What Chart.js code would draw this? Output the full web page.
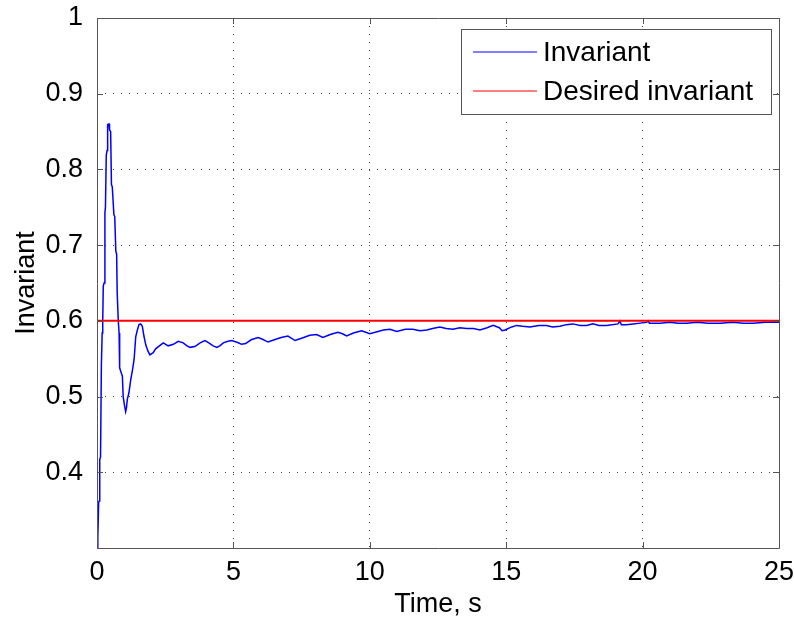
<!DOCTYPE html>
<html><head><meta charset="utf-8">
<script src="https://cdn.jsdelivr.net/npm/chart.js@4"></script>
<style>html,body{margin:0;padding:0;background:#fff;}#wrap{width:794px;height:618px;}</style>
</head><body><div id="wrap"><canvas id="c" width="794" height="618"></canvas></div>
<script>
// ---- data ----
const timeS = [
  0.00,0.03,0.06,0.08,0.10,0.13,0.16,0.19,0.21,0.23,0.26,0.29,0.31,0.34,0.37,0.39,0.44,0.46,0.50,
  0.53,0.56,0.62,0.65,0.69,0.72,0.74,0.78,0.81,0.83,0.90,0.93,0.96,1.00,1.05,1.08,1.11,1.17,1.24,
  1.30,1.36,1.42,1.48,1.54,1.60,1.66,1.72,1.79,1.87,1.94,2.06,2.15,2.25,2.43,2.61,2.80,2.98,3.16,
  3.30,3.41,3.59,3.78,3.96,4.10,4.26,4.39,4.50,4.63,4.80,4.94,5.18,5.30,5.45,5.65,5.90,6.05,6.27,
  6.50,6.75,7.00,7.26,7.50,7.80,8.05,8.28,8.55,8.83,9.00,9.15,9.40,9.70,10.00,10.20,10.50,10.74,
  10.99,11.30,11.58,11.84,12.09,12.30,12.57,12.80,13.05,13.30,13.55,13.80,14.04,14.30,14.52,14.75,
  14.85,14.96,15.20,15.39,15.60,15.87,16.20,16.48,16.70,16.97,17.20,17.45,17.70,17.95,18.18,18.40,
  18.68,19.10,19.17,19.22,19.40,19.65,19.90,20.15,20.20,20.25,20.40,20.64,21.00,21.30,21.62,22.00,
  22.40,22.84,23.30,23.70,24.05,24.50,25.00
];
const invariant = [
  0.300,0.314,0.360,0.362,0.417,0.420,0.541,0.584,0.600,0.646,0.650,0.743,0.750,0.819,0.825,0.859,0.860,0.852,0.850,
  0.780,0.777,0.740,0.738,0.692,0.688,0.637,0.600,0.584,0.538,0.530,0.527,0.500,0.490,0.480,0.485,0.496,0.505,0.523,
  0.535,0.549,0.579,0.588,0.595,0.596,0.593,0.580,0.568,0.560,0.555,0.558,0.563,0.566,0.571,0.567,0.569,0.573,0.571,
  0.567,0.565,0.566,0.571,0.574,0.571,0.567,0.565,0.567,0.571,0.573,0.574,0.571,0.569,0.570,0.575,0.578,0.576,0.572,
  0.575,0.578,0.580,0.574,0.577,0.581,0.582,0.578,0.582,0.585,0.583,0.580,0.584,0.587,0.583,0.585,0.588,0.589,
  0.586,0.589,0.589,0.587,0.588,0.590,0.592,0.590,0.589,0.591,0.590,0.590,0.588,0.591,0.594,0.591,
  0.587,0.588,0.592,0.594,0.593,0.592,0.594,0.594,0.592,0.593,0.595,0.596,0.594,0.594,0.596,0.594,
  0.594,0.596,0.600,0.595,0.595,0.596,0.597,0.598,0.600,0.597,0.597,0.597,0.598,0.597,0.597,0.598,
  0.597,0.597,0.598,0.597,0.597,0.598,0.598
];
const desiredTime = [0, 25];
const desiredInvariant = [0.6, 0.6];
const seriesLabels = ['Invariant', 'Desired invariant'];
const seriesColors = ['#0000ff', '#ff0000'];
const xTickValues = [0, 5, 10, 15, 20, 25];
const yTickValues = [0.3, 0.4, 0.5, 0.6, 0.7, 0.8, 0.9, 1.0];
const xTitle = 'Time, s';
const yTitle = 'Invariant';

const FONT = "'Liberation Sans', Arial, Helvetica, sans-serif";
const AXIS_COLOR = '#555555';
const GRID_COLOR = '#444444';

const boxPlugin = {
  id: 'matlabBox',
  afterDatasetsDraw(chart) {
    const {ctx, chartArea: a, scales} = chart;
    ctx.save();
    ctx.strokeStyle = AXIS_COLOR;
    ctx.lineWidth = 1;
    ctx.beginPath();
    ctx.rect(Math.round(a.left) + 0.5, Math.round(a.top) + 0.5, Math.round(a.right - a.left), Math.round(a.bottom - a.top));
    ctx.stroke();
    const L = 6;
    ctx.beginPath();
    scales.x.ticks.forEach(t => {
      const x = Math.round(scales.x.getPixelForValue(t.value)) + 0.5;
      ctx.moveTo(x, a.bottom); ctx.lineTo(x, a.bottom - L);
      ctx.moveTo(x, a.top); ctx.lineTo(x, a.top + L);
    });
    scales.y.ticks.forEach(t => {
      const y = Math.round(scales.y.getPixelForValue(t.value)) + 0.5;
      ctx.moveTo(a.left, y); ctx.lineTo(a.left + L, y);
      ctx.moveTo(a.right, y); ctx.lineTo(a.right - L, y);
    });
    ctx.stroke();
    ctx.restore();
  },
  afterDraw(chart) {
    const {ctx, chartArea: a} = chart;
    const ds = chart.data.datasets;
    const bx = a.right - 8, by = a.top + 11, bw = 310, bh = 85;
    ctx.save();
    ctx.fillStyle = '#ffffff';
    ctx.fillRect(bx - bw, by, bw, bh);
    ctx.strokeStyle = AXIS_COLOR;
    ctx.lineWidth = 1;
    ctx.strokeRect(Math.round(bx - bw) + 0.5, Math.round(by) + 0.5, bw, bh);
    ctx.font = '28px ' + FONT;
    ctx.textBaseline = 'middle';
    const rows = [by + 23, by + 62];
    ds.forEach((d, i) => {
      ctx.beginPath();
      ctx.strokeStyle = seriesColors[i];
      ctx.lineWidth = 1.2;
      ctx.moveTo(bx - bw + 12, Math.round(rows[i]));
      ctx.lineTo(bx - bw + 76, Math.round(rows[i]));
      ctx.stroke();
      ctx.fillStyle = '#000';
      ctx.fillText(d.label, bx - bw + 82, rows[i] + 1);
    });
    ctx.restore();
  }
};

new Chart(document.getElementById('c'), {
  type: 'line',
  data: {
    datasets: [
      {
        label: seriesLabels[0],
        data: timeS.map((t, i) => ({x: t, y: invariant[i]})),
        borderColor: seriesColors[0],
        borderWidth: 1.5,
        pointRadius: 0,
        tension: 0,
        order: 2
      },
      {
        label: seriesLabels[1],
        data: desiredTime.map((t, i) => ({x: t, y: desiredInvariant[i]})),
        borderColor: seriesColors[1],
        borderWidth: 2,
        pointRadius: 0,
        order: 1
      }
    ]
  },
  options: {
    responsive: false,
    animation: false,
    layout: {padding: {top: 18, right: 15, left: 0, bottom: 0}},
    plugins: {legend: {display: false}, tooltip: {enabled: false}},
    scales: {
      x: {
        type: 'linear',
        min: 0, max: 25,
        afterBuildTicks: s => { s.ticks = xTickValues.map(v => ({value: v})); },
        afterFit: s => { s.height = 70; s.paddingLeft = 0; s.paddingRight = 0; },
        ticks: {font: {family: FONT, size: 27}, color: '#000', padding: 8, maxRotation: 0,
          callback: v => String(v)},
        grid: {color: GRID_COLOR, lineWidth: 1, drawTicks: false},
        border: {display: false, dash: [1, 7]},
        title: {display: true, text: xTitle, font: {family: FONT, size: 27, lineHeight: 1}, color: '#000', padding: {top: 0, bottom: 0}}
      },
      y: {
        type: 'linear',
        min: 0.3, max: 1,
        afterBuildTicks: s => { s.ticks = yTickValues.map(v => ({value: v})); },
        afterFit: s => { s.width = 97; s.paddingTop = 0; s.paddingBottom = 0; },
        ticks: {font: {family: FONT, size: 27}, color: '#000', padding: 14,
          callback: v => (Math.abs(v - 0.3) < 1e-6 ? '' : String(+v.toFixed(1)))},
        grid: {color: GRID_COLOR, lineWidth: 1, drawTicks: false},
        border: {display: false, dash: [1, 7]},
        title: {display: true, text: yTitle, font: {family: FONT, size: 27, lineHeight: 1}, color: '#000', padding: {top: 13, bottom: 0}}
      }
    }
  },
  plugins: [boxPlugin]
});
</script>
</body></html>
